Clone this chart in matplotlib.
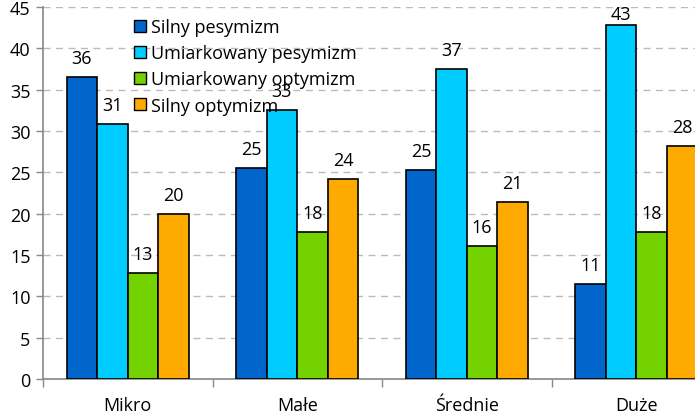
import matplotlib
matplotlib.use("Agg")
import matplotlib.pyplot as plt
from matplotlib.patches import Patch
import numpy as np

categories = ["Mikro", "Małe", "Średnie", "Duże"]
series_names = ["Silny pesymizm", "Umiarkowany pesymizm", "Umiarkowany optymizm", "Silny optymizm"]
silny_pes = [36.5, 25.5, 25.3, 11.5]
umiark_pes = [30.8, 32.5, 37.5, 42.8]
umiark_opt = [12.8, 17.8, 16.1, 17.8]
silny_opt = [19.9, 24.2, 21.4, 28.2]
labels = [[36, 25, 25, 11], [31, 33, 37, 43], [13, 18, 16, 18], [20, 24, 21, 28]]
colors = ["#0066CC", "#00CCFF", "#73D200", "#FFAA00"]

plt.rcParams['font.family'] = ['Open Sans', 'DejaVu Sans']
FS = 13

W, H = 695, 414
fig = plt.figure(figsize=(W/100, H/100), dpi=100)
left, right, top, bottom = 43, 721, 8, 380
ax = fig.add_axes([left/W, 1-bottom/H, (right-left)/W, (bottom-top)/H])

data = [silny_pes, umiark_pes, umiark_opt, silny_opt]
x = np.arange(len(categories))
bw = 0.18
for i, (vals, c) in enumerate(zip(data, colors)):
    pos = x + (i-1.5)*bw
    ax.bar(pos, vals, width=bw, color=c, edgecolor='black', linewidth=1.2, zorder=3)
    for p, v, l in zip(pos, vals, labels[i]):
        ax.text(p, min(v + 1.7, 43.6), str(l), ha='center', va='baseline',
                fontsize=FS, color='black', zorder=6)

ax.set_xlim(-0.5, 3.5)
ax.set_ylim(0, 45)
ax.set_yticks(range(0, 46, 5))
ax.yaxis.grid(True, color='#BBBBBB', linestyle=(0, (5, 4)), linewidth=1)
ax.set_axisbelow(True)
ax.set_xticks(x)
ax.set_xticklabels(categories)
ax.set_xticks(np.arange(-0.5, 4, 1), minor=True)
ax.tick_params(axis='x', which='major', length=0, pad=12, labelsize=FS)
ax.tick_params(axis='x', which='minor', length=6, color='#888888', width=1)
ax.tick_params(axis='y', length=5, color='#888888', width=1, labelsize=FS, pad=4)
for s in ['top', 'right']:
    ax.spines[s].set_visible(False)
for s in ['left', 'bottom']:
    ax.spines[s].set_color('#888888')
    ax.spines[s].set_linewidth(1.2)

handles = [Patch(facecolor=c, edgecolor='black', linewidth=1) for c in colors]
leg = fig.legend(handles, series_names, loc='upper left', bbox_to_anchor=(127/W, 1-12/H),
                 frameon=False, fontsize=FS, handlelength=0.65, handleheight=0.65,
                 handletextpad=0.3, labelspacing=0.45, borderaxespad=0)
leg.set_zorder(5)

fig.savefig("out.png", dpi=100)
